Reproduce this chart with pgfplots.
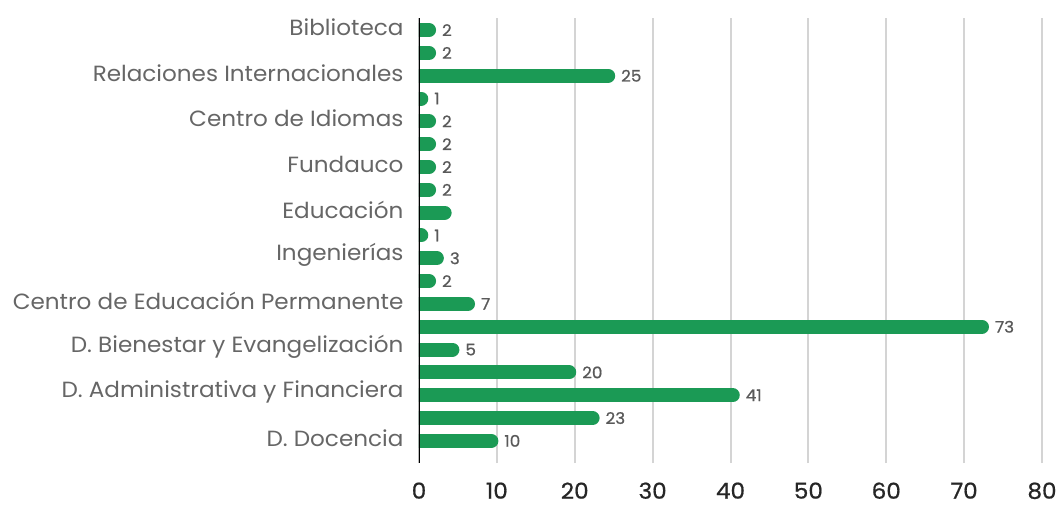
\documentclass[border=0pt]{standalone}
\usepackage{fontspec}
\setmainfont{Poppins}[FakeStretch=1.05]
\newfontfamily\medfont{Poppins}[FakeStretch=1.05, FakeBold=0.8]
\usepackage{pgfplots}
\pgfplotsset{compat=1.18}
\definecolor{barg}{RGB}{27,154,85}
\definecolor{lblg}{RGB}{102,102,102}
\definecolor{valg}{RGB}{89,89,89}
\definecolor{gridg}{RGB}{212,212,212}
\begin{document}
\begin{tikzpicture}
\useasboundingbox (-419pt,-43pt) rectangle (645pt,463pt);
\begin{axis}[
  at={(0,0)}, anchor=south west,
  scale only axis, width=623pt, height=445pt,
  xmin=0, xmax=80, ymin=-0.97, ymax=18.53,
  separate axis lines,
  axis x line*=bottom, axis y line*=left,
  x axis line style={draw=none},
  y axis line style={draw=none},
  major tick length=0pt,
  xtick={0,10,...,80},
  xmajorgrids, grid style={gridg, line width=2pt},
  /pgf/number format/assume math mode=true,
  xticklabel style={font=\medfont\fontsize{22}{26}\selectfont, text=black!85, yshift=-16pt},
  ytick={0,2,...,18},
  yticklabels={D. Docencia, D. Administrativa y Financiera, D. Bienestar y Evangelización, Centro de Educación Permanente, Ingenierías, Educación, Fundauco, Centro de Idiomas, Relaciones Internacionales, Biblioteca},
  yticklabel style={font=\fontsize{22}{26}\selectfont, text=lblg, xshift=-12pt, yshift=3pt},
  clip=true,
]
\addplot[xcomb, draw=barg, line width=14pt, line cap=round, xshift=-5.5pt,
  point meta=x,
  nodes near coords,
  nodes near coords style={anchor=west, inner sep=0pt, xshift=6pt, text=valg, font=\medfont\fontsize{16}{18}\selectfont},
  /pgf/number format/assume math mode=true]
coordinates {
(10,0) (23,1) (41,2) (20,3) (5,4) (73,5) (7,6) (2,7) (3,8) (1,9)
(2,11) (2,12) (2,13) (2,14) (1,15) (25,16) (2,17) (2,18)
};
\addplot[xcomb, draw=barg, line width=14pt, line cap=round, xshift=-5.5pt]
coordinates {(4,10)};
\draw[black, line width=2pt] (axis cs:0,-0.97) -- (axis cs:0,18.53);
\end{axis}
\end{tikzpicture}
\end{document}
